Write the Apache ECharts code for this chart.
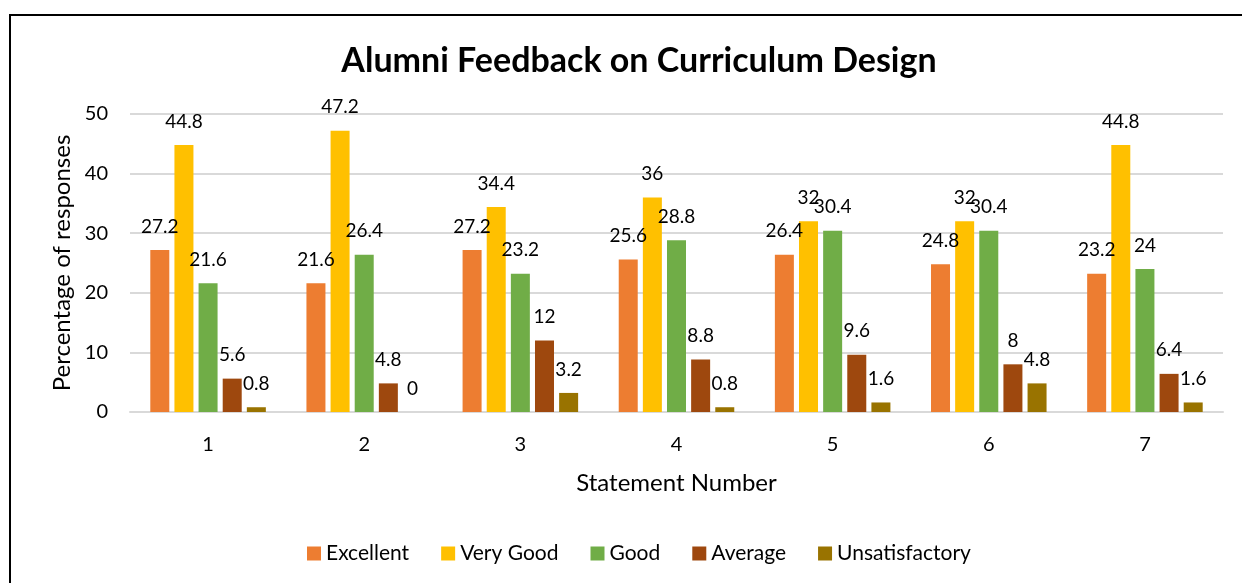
<!DOCTYPE html>
<html>
<head>
<meta charset="utf-8">
<script src="https://cdn.jsdelivr.net/npm/echarts@6/dist/echarts.min.js"></script>
<style>
  html, body { margin: 0; padding: 0; background: #fff; }
  #chart { width: 1242px; height: 583px; }
</style>
</head>
<body>
<div id="chart"></div>
<script>
var statements = ['1', '2', '3', '4', '5', '6', '7'];
var excellent = [27.2, 21.6, 27.2, 25.6, 26.4, 24.8, 23.2];
var veryGood = [44.8, 47.2, 34.4, 36, 32, 32, 44.8];
var good = [21.6, 26.4, 23.2, 28.8, 30.4, 30.4, 24];
var average = [5.6, 4.8, 12, 8.8, 9.6, 8, 6.4];
var unsatisfactory = [0.8, 0, 3.2, 0.8, 1.6, 4.8, 1.6];

var font = 'Lato, "Open Sans", sans-serif';

function bar(name, data, color) {
  return {
    name: name,
    type: 'bar',
    data: data,
    barGap: '27%',
    barCategoryGap: '26%',
    itemStyle: { color: color },
    label: {
      show: true,
      position: 'top',
      distance: 14,
      color: '#000',
      fontSize: 19,
      fontFamily: font
    }
  };
}

var chart = echarts.init(document.getElementById('chart'));
chart.setOption({
  animation: false,
  textStyle: { fontFamily: font },
  title: {
    text: 'Alumni Feedback on Curriculum Design',
    left: 634,
    top: 39,
    textAlign: 'center',
    textStyle: { fontSize: 34, fontWeight: 'bold', color: '#000', fontFamily: font }
  },
  graphic: [{
    type: 'rect',
    shape: { x: 10, y: 15, width: 1240, height: 580 },
    style: { fill: 'none', stroke: '#000', lineWidth: 2 },
    silent: true
  }],
  legend: {
    bottom: 14,
    left: 302,
    itemWidth: 14,
    itemHeight: 14,
    itemGap: 32,
    icon: 'rect',
    textStyle: { fontSize: 21, color: '#000', fontFamily: font },
    data: ['Excellent', 'Very Good', 'Good', 'Average', 'Unsatisfactory']
  },
  grid: { left: 130, right: 19, top: 114, bottom: 171 },
  xAxis: {
    type: 'category',
    data: statements,
    name: 'Statement Number',
    nameLocation: 'middle',
    nameGap: 59,
    nameTextStyle: { fontSize: 24, color: '#000', fontFamily: font },
    axisLine: { lineStyle: { color: '#d9d9d9', width: 2 } },
    axisTick: { show: false },
    axisLabel: { fontSize: 20, color: '#000', margin: 23 }
  },
  yAxis: {
    type: 'value',
    min: 0,
    max: 50,
    interval: 10,
    name: 'Percentage of responses',
    nameLocation: 'middle',
    nameGap: 56,
    nameTextStyle: { fontSize: 24, color: '#000', fontFamily: font },
    axisLine: { show: false },
    axisTick: { show: false },
    axisLabel: { fontSize: 20, color: '#000', margin: 22 },
    splitLine: { lineStyle: { color: '#d9d9d9', width: 2 } }
  },
  series: [
    bar('Excellent', excellent, '#ED7D31'),
    bar('Very Good', veryGood, '#FFC000'),
    bar('Good', good, '#70AD47'),
    bar('Average', average, '#9E480E'),
    bar('Unsatisfactory', unsatisfactory, '#997300')
  ]
});
</script>
</body>
</html>
